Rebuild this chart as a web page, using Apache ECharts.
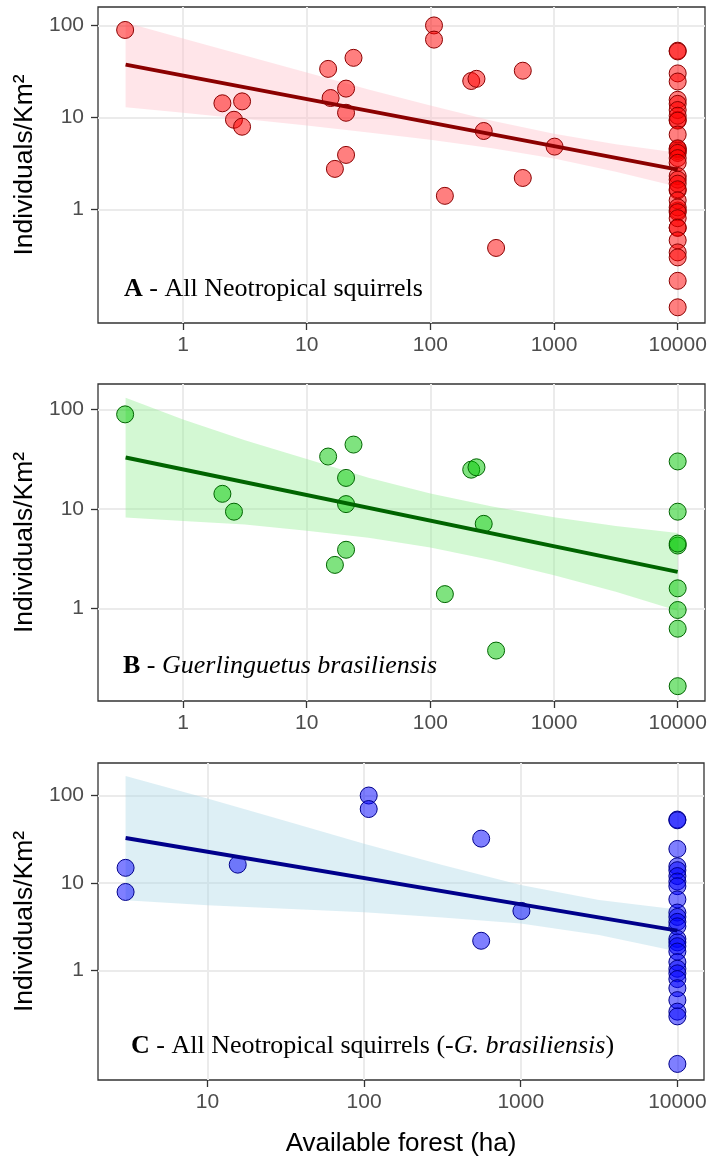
<!DOCTYPE html>
<html>
<head>
<meta charset="utf-8">
<script src="https://cdn.jsdelivr.net/npm/echarts@6/dist/echarts.min.js"></script>
<style>
html,body{margin:0;padding:0;background:#fff;}
#chart{width:711px;height:1160px;}
</style>
</head>
<body>
<div id="chart"></div>
<script>
// ---------------- DATA ----------------
// Panel B: Guerlinguetus brasiliensis
const bForest = [0.34, 2.08, 2.58, 14.9, 23.9, 20.8, 20.8, 20.8, 16.9, 214, 236, 270, 131, 340,
  10000, 10000, 10000, 10000, 10000, 10000, 10000, 10000];
const bDensity = [89, 14.2, 9.4, 33.6, 44.3, 20.5, 11.2, 3.9, 2.75, 24.8, 26.2, 7.1, 1.4, 0.38,
  30, 9.4, 4.3, 4.5, 1.6, 0.97, 0.63, 0.167];

// Panel C: all Neotropical squirrels except G. brasiliensis
const cForest = [3.0, 3.0, 15.6, 107, 107, 559, 559, 1010,
  10000, 10000, 10000, 10000, 10000, 10000, 10000, 10000, 10000, 10000, 10000, 10000, 10000,
  10000, 10000, 10000, 10000, 10000, 10000, 10000, 10000, 10000, 10000, 10000, 10000, 10000];
const cDensity = [14.9, 7.9, 16.2, 99.7, 69.9, 32.1, 2.19, 4.8,
  53, 52, 24.5, 15.5, 14, 12, 10.4, 9.2, 6.5, 4.6, 4.1, 3.6, 3.2,
  2.3, 2.1, 1.9, 1.65, 1.25, 1.05, 0.93, 0.8, 0.63, 0.46, 0.34, 0.30, 0.086];

// Panel A: all Neotropical squirrels (B and C together)
const aForest = bForest.concat(cForest);
const aDensity = bDensity.concat(cDensity);

// Fitted lines (end points)
const fitForestAB = [0.343, 10000];
const fitDensityA = [37.4, 2.70];
const fitDensityB = [32.8, 2.34];
const fitForestC = [3.0, 10000];
const fitDensityC = [32.6, 2.86];

// Confidence ribbons (upper / lower edges)
const ribForestAB = [0.343, 1, 3.16, 10, 31.6, 100, 316, 1000, 3160, 10000];
const ribUpperA = [107.6, 72.1, 46.9, 30.6, 20.1, 13.4, 9.18, 6.62, 5.09, 4.13];
const ribLowerA = [12.9, 11.2, 9.57, 8.13, 6.85, 5.71, 4.62, 3.56, 2.56, 1.76];
const ribUpperB = [130.6, 79.1, 49.0, 31.7, 20.6, 14.3, 10.6, 8.26, 6.75, 5.75];
const ribLowerB = [8.24, 7.6, 7.0, 6.04, 5.16, 4.11, 3.06, 2.17, 1.48, 0.955];
const ribForestC = [3.0, 10, 31.6, 100, 316, 1000, 3160, 10000];
const ribUpperC = [167, 92.5, 50.9, 28.0, 16.1, 9.48, 6.41, 4.98];
const ribLowerC = [6.35, 5.57, 5.09, 4.65, 4.05, 3.44, 2.55, 1.65];

// Tick labels
const xTicksAB = [1, 10, 100, 1000, 10000];
const xTicksC = [10, 100, 1000, 10000];
const yTicks = [1, 10, 100];

// Texts
const yTitle = 'Individuals/Km²';
const xTitle = 'Available forest (ha)';
const labelA = '{b|A} - All Neotropical squirrels';
const labelB = '{b|B} - {i|Guerlinguetus brasiliensis}';
const labelC = '{b|C} - All Neotropical squirrels (-{i|G. brasiliensis})';

// ---------------- CHART ----------------
const L = v => Math.log10(v);
const fmt = v => String(Math.round(Math.pow(10, v)));

const panels = [
  {forest: aForest, density: aDensity, fitX: fitForestAB, fitY: fitDensityA,
   ribX: ribForestAB, ribUp: ribUpperA, ribLo: ribLowerA, xTicks: xTicksAB,
   xExt: [-0.688, 4.221], yExt: [-1.236, 2.199],
   box: {left: 98, top: 7, width: 607, height: 316},
   fill: 'rgba(255,0,0,0.5)', stroke: '#8b0000', line: '#8b0000', band: 'rgba(255,192,203,0.42)',
   label: labelA, labelPos: {left: 124, top: 274}, xName: ''},
  {forest: bForest, density: bDensity, fitX: fitForestAB, fitY: fitDensityB,
   ribX: ribForestAB, ribUp: ribUpperB, ribLo: ribLowerB, xTicks: xTicksAB,
   xExt: [-0.688, 4.221], yExt: [-0.926, 2.254],
   box: {left: 98, top: 384, width: 607, height: 317},
   fill: 'rgba(0,200,0,0.5)', stroke: '#006400', line: '#006400', band: 'rgba(144,238,144,0.4)',
   label: labelB, labelPos: {left: 123, top: 651}, xName: ''},
  {forest: cForest, density: cDensity, fitX: fitForestC, fitY: fitDensityC,
   ribX: ribForestC, ribUp: ribUpperC, ribLo: ribLowerC, xTicks: xTicksC,
   xExt: [0.301, 4.170], yExt: [-1.249, 2.370],
   box: {left: 98, top: 763, width: 606, height: 317},
   fill: 'rgba(0,0,255,0.5)', stroke: '#00008b', line: '#00008b', band: 'rgba(173,216,230,0.42)',
   label: labelC, labelPos: {left: 131, top: 1031}, xName: xTitle}
];

const option = {
  backgroundColor: '#ffffff',
  animation: false,
  grid: [], xAxis: [], yAxis: [], series: [], title: []
};

const sans = 'Liberation Sans, Arial, sans-serif';
const serif = 'Liberation Serif, Times New Roman, serif';

function majorColors(ext, ticks) {
  const out = [];
  const logs = ticks.map(L);
  for (let k = Math.ceil(ext[0]); k <= Math.floor(ext[1]); k++) {
    out.push(logs.indexOf(k) >= 0 ? '#ebebeb' : 'rgba(0,0,0,0)');
  }
  return out;
}

panels.forEach((p, gi) => {
  option.grid.push(Object.assign({show: true, borderColor: '#333333', borderWidth: 1.3,
    backgroundColor: 'rgba(0,0,0,0)'}, p.box));

  const xi = option.xAxis.length;
  // main x axis: minor+major thin lines, ticks & labels
  option.xAxis.push({
    gridIndex: gi, type: 'value', min: p.xExt[0], max: p.xExt[1], position: 'bottom',
    minInterval: 0.5, maxInterval: 0.5,
    axisLine: {show: false, onZero: false},
    axisTick: {show: true, customValues: p.xTicks.map(L), length: 7, lineStyle: {color: '#333333', width: 1.3}},
    axisLabel: {show: true, customValues: p.xTicks.map(L), formatter: fmt, fontSize: 21,
      color: '#4d4d4d', fontFamily: sans, margin: 12},
    splitLine: {show: true, showMinLine: false, showMaxLine: false, lineStyle: {color: '#ebebeb', width: 1}},
    name: p.xName, nameLocation: 'middle', nameGap: 51, nameMoveOverlap: false,
    nameTextStyle: {fontSize: 26, fontFamily: sans, color: '#000000'}
  });
  // overlay x axis: thicker major lines
  option.xAxis.push({
    gridIndex: gi, type: 'value', min: p.xExt[0], max: p.xExt[1], position: 'bottom',
    minInterval: 1, maxInterval: 1,
    axisLine: {show: false, onZero: false}, axisTick: {show: false}, axisLabel: {show: false},
    splitLine: {show: true, showMinLine: false, showMaxLine: false,
      lineStyle: {color: majorColors(p.xExt, p.xTicks), width: 2}}
  });

  const yi = option.yAxis.length;
  option.yAxis.push({
    gridIndex: gi, type: 'value', min: p.yExt[0], max: p.yExt[1], position: 'left',
    minInterval: 0.5, maxInterval: 0.5,
    axisLine: {show: false, onZero: false},
    axisTick: {show: true, customValues: yTicks.map(L), length: 7, lineStyle: {color: '#333333', width: 1.3}},
    axisLabel: {show: true, customValues: yTicks.map(L), formatter: fmt, fontSize: 21,
      color: '#4d4d4d', fontFamily: sans, margin: 14},
    splitLine: {show: true, showMinLine: false, showMaxLine: false, lineStyle: {color: '#ebebeb', width: 1}},
    name: yTitle, nameLocation: 'middle', nameGap: 60, nameMoveOverlap: false,
    nameTextStyle: {fontSize: 26.5, fontFamily: sans, color: '#000000'}
  });
  option.yAxis.push({
    gridIndex: gi, type: 'value', min: p.yExt[0], max: p.yExt[1], position: 'left',
    minInterval: 1, maxInterval: 1,
    axisLine: {show: false, onZero: false}, axisTick: {show: false}, axisLabel: {show: false},
    splitLine: {show: true, showMinLine: false, showMaxLine: false,
      lineStyle: {color: majorColors(p.yExt, yTicks), width: 2}}
  });

  // points
  option.series.push({
    type: 'scatter', xAxisIndex: xi, yAxisIndex: yi,
    data: p.forest.map((x, i) => [L(x), L(p.density[i])]),
    symbol: 'circle', symbolSize: 17,
    itemStyle: {color: p.fill, borderColor: p.stroke, borderWidth: 1, opacity: 1},
    silent: true
  });
  // confidence ribbon
  const rows = p.ribX.map((x, i) => [L(x), L(p.ribLo[i]), L(p.ribUp[i])]);
  option.series.push({
    type: 'custom', xAxisIndex: xi, yAxisIndex: yi, silent: true,
    data: rows,
    renderItem: (params, api) => {
      if (params.dataIndex !== 0) return null;
      const upper = rows.map(r => api.coord([r[0], r[2]]));
      const lower = rows.map(r => api.coord([r[0], r[1]])).reverse();
      return {type: 'polygon', shape: {points: upper.concat(lower)}, style: {fill: p.band}};
    }
  });
  // fitted line
  option.series.push({
    type: 'line', xAxisIndex: xi, yAxisIndex: yi, silent: true,
    data: p.fitX.map((x, i) => [L(x), L(p.fitY[i])]),
    symbol: 'none', lineStyle: {color: p.line, width: 4}
  });

  option.title.push({
    left: p.labelPos.left, top: p.labelPos.top, padding: 0,
    text: p.label,
    textStyle: {fontFamily: serif, fontSize: 26, fontWeight: 'normal', color: '#000000', lineHeight: 30,
      rich: {
        b: {fontFamily: serif, fontSize: 26, fontWeight: 'bold', color: '#000000', lineHeight: 30},
        i: {fontFamily: serif, fontSize: 26, fontStyle: 'italic', color: '#000000', lineHeight: 30}
      }}
  });
});

const chart = echarts.init(document.getElementById('chart'), null, {renderer: 'canvas'});
chart.setOption(option);
</script>
</body>
</html>
